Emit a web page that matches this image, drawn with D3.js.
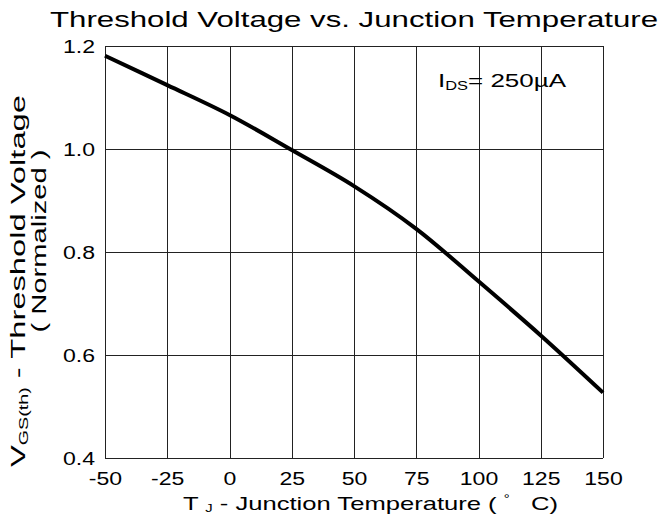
<!DOCTYPE html>
<html>
<head>
<meta charset="utf-8">
<script src="https://cdn.jsdelivr.net/npm/d3@7"></script>
<style>
  body { margin: 0; background: #fff; }
  text { font-family: "Liberation Sans", Arial, sans-serif; fill: #000; }
</style>
</head>
<body>
<div id="chart"></div>
<script>
// data
var temps = [-50, -25, 0, 25, 50, 75, 100, 125, 150];
var vth = [1.181, 1.124, 1.066, 0.998, 0.928, 0.845, 0.743, 0.638, 0.527];
var xTicks = [-50, -25, 0, 25, 50, 75, 100, 125, 150];
var yTicks = [0.4, 0.6, 0.8, 1.0, 1.2];

var width = 667, height = 518;
var margin = {top: 46, right: 64, bottom: 60, left: 105};
var w = width - margin.left - margin.right;
var h = height - margin.top - margin.bottom;

// the original font looks stretched sideways
var stretch = 1.28;

var svg = d3.select('#chart').append('svg')
    .attr('width', width)
    .attr('height', height);

var g = svg.append('g')
    .attr('transform', 'translate(' + margin.left + ',' + margin.top + ')');

var x = d3.scaleLinear().domain([-50, 150]).range([0, w]);
var y = d3.scaleLinear().domain([0.4, 1.2]).range([h, 0]);

// grid
g.selectAll('.vgrid').data(xTicks).enter().append('line')
    .attr('class', 'vgrid')
    .attr('x1', function (d) { return Math.round(x(d)) + 0.5; })
    .attr('x2', function (d) { return Math.round(x(d)) + 0.5; })
    .attr('y1', 0).attr('y2', h)
    .attr('stroke', '#222').attr('stroke-width', 1);

g.selectAll('.hgrid').data(yTicks).enter().append('line')
    .attr('class', 'hgrid')
    .attr('x1', 0).attr('x2', w)
    .attr('y1', function (d) { return Math.round(y(d)) + 0.5; })
    .attr('y2', function (d) { return Math.round(y(d)) + 0.5; })
    .attr('stroke', '#222').attr('stroke-width', 1);

// axes, only used for the labels (plain hyphen for negatives)
var xAxis = g.append('g')
    .attr('transform', 'translate(0,' + h + ')')
    .call(d3.axisBottom(x).tickValues(xTicks).tickFormat(function (d) { return String(d); })
        .tickSize(0).tickPadding(0));
xAxis.select('.domain').remove();
xAxis.selectAll('text')
    .attr('dy', null)
    .attr('y', 27)
    .attr('font-size', 18);

var yAxis = g.append('g')
    .call(d3.axisLeft(y).tickValues(yTicks).tickFormat(function (d) { return d.toFixed(1); })
        .tickSize(0).tickPadding(10));
yAxis.select('.domain').remove();
yAxis.selectAll('text')
    .attr('dy', '0.36em')
    .attr('font-size', 18);

svg.selectAll('.tick text').each(function () {
    var len = this.getComputedTextLength();
    d3.select(this).attr('textLength', len * stretch).attr('lengthAdjust', 'spacingAndGlyphs');
});

// curve
var line = d3.line()
    .x(function (d, i) { return x(temps[i]); })
    .y(function (d) { return y(d); })
    .curve(d3.curveCatmullRom.alpha(0.5));

g.append('path')
    .datum(vth)
    .attr('d', line)
    .attr('fill', 'none')
    .attr('stroke', '#000')
    .attr('stroke-width', 4);

// title
svg.append('text')
    .attr('x', 50).attr('y', 27)
    .attr('font-size', 22)
    .attr('textLength', 608).attr('lengthAdjust', 'spacingAndGlyphs')
    .text('Threshold Voltage vs. Junction Temperature');

// condition label
var lab = svg.append('text')
    .attr('x', 438).attr('y', 87)
    .attr('font-size', 19)
    .attr('textLength', 128).attr('lengthAdjust', 'spacingAndGlyphs');
lab.append('tspan').text('I');
lab.append('tspan').attr('font-size', 12).attr('dy', 3).text('DS');
lab.append('tspan').attr('dy', -3).text('= 250');
lab.append('tspan').text('\u00b5A');

// x axis title
var xt = svg.append('text')
    .attr('x', 183).attr('y', 510)
    .attr('font-size', 19)
    .attr('textLength', 375).attr('lengthAdjust', 'spacingAndGlyphs')
    .attr('xml:space', 'preserve')
    .style('white-space', 'pre');
xt.append('tspan').text('T ');
xt.append('tspan').attr('font-size', 11).attr('dy', 2).text('J');
xt.append('tspan').attr('dy', -2).text(' - Junction Temperature ( ');
xt.append('tspan').attr('font-size', 11).attr('dy', -8).text('\u00b0');
xt.append('tspan').attr('dy', 8).text('   C)');

// y axis title, two lines
var yt1 = svg.append('text')
    .attr('transform', 'translate(25,281) rotate(-90)')
    .attr('text-anchor', 'middle')
    .attr('font-size', 20)
    .attr('textLength', 372).attr('lengthAdjust', 'spacingAndGlyphs');
yt1.append('tspan').text('V');
yt1.append('tspan').attr('font-size', 12).attr('dy', 3).text('GS(th)');
yt1.append('tspan').attr('dy', -3).text('  - Threshold Voltage');

svg.append('text')
    .attr('transform', 'translate(46,241) rotate(-90)')
    .attr('text-anchor', 'middle')
    .attr('font-size', 20)
    .attr('textLength', 183).attr('lengthAdjust', 'spacingAndGlyphs')
    .text('( Normalized )');
</script>
</body>
</html>
